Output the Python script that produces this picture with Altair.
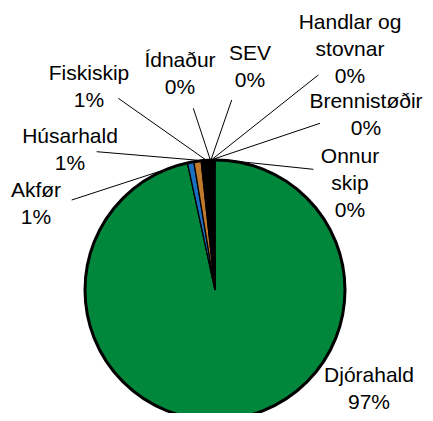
import math
import altair as alt
import pandas as pd

# ---- data ----
categories = ["Djórahald", "Akfør", "Húsarhald", "Fiskiskip", "Ídnaður",
              "SEV", "Handlar og stovnar", "Brennistøðir", "Onnur skip"]
shares = [96.6, 0.8, 0.9, 1.0, 0.2, 0.1, 0.2, 0.1, 0.1]
label_names = ["Djórahald", "Akfør", "Húsarhald", "Fiskiskip", "Ídnaður",
               "SEV", "Handlar og\nstovnar", "Brennistøðir", "Onnur\nskip"]

# ---- styles ----
slice_colors = ["#00873C", "#1B6FC1", "#C17A2B", "#000000", "#000000",
                "#000000", "#000000", "#000000", "#000000"]

# ---- layout (plot-area pixels) ----
W, H = 417, 405
CX, CY, R = 207, 282, 130
label_x = [361, 28, 62, 81, 172, 242, 342, 358, 342]
label_y = [374, 189, 135, 71.5, 58.7, 52, 21.3, 100, 155]
leader_x = [None, 63.7, 88.7, 110.3, 185.3, 223.7, 310.3, 312, 305.3]
leader_y = [None, 192, 143.7, 90.3, 100.3, 92, 67, 115.3, 161.3]

total = sum(shares)
pie_df = pd.DataFrame({
    "category": categories,
    "value": shares,
    "idx": list(range(len(categories))),
})

lab_df = pd.DataFrame({
    "label": [f"{n}\n{round(v)}%" for n, v in zip(label_names, shares)],
    "x": label_x,
    "y": label_y,
})

rows = []
cum = 0.0
for cat, v, lx, ly in zip(categories, shares, leader_x, leader_y):
    mid = (cum + v / 2) / total * 2 * math.pi
    cum += v
    if lx is None:
        continue
    rows.append({
        "x": lx, "y": ly,
        "x2": CX + (R + 1) * math.sin(mid),
        "y2": CY - (R + 1) * math.cos(mid),
    })
lead_df = pd.DataFrame(rows)

sx = alt.Scale(domain=[0, W], nice=False, zero=False)
sy = alt.Scale(domain=[H, 0], nice=False, zero=False)

pie = alt.Chart(pie_df).mark_arc(
    outerRadius=R, stroke="black", strokeWidth=1.3
).encode(
    theta=alt.Theta("value:Q", stack=True),
    order=alt.Order("idx:Q"),
    color=alt.Color("category:N",
                    scale=alt.Scale(domain=categories, range=slice_colors),
                    legend=None),
    x=alt.value(CX),
    y=alt.value(CY),
)

ring = alt.Chart(pd.DataFrame({"total": [total]})).mark_arc(
    outerRadius=R, theta=0, theta2=2 * math.pi,
    fillOpacity=0, stroke="black", strokeWidth=3
).encode(
    x=alt.value(CX),
    y=alt.value(CY),
)

leaders = alt.Chart(lead_df).mark_rule(color="black", strokeWidth=1).encode(
    x=alt.X("x:Q", scale=sx, axis=None),
    y=alt.Y("y:Q", scale=sy, axis=None),
    x2="x2:Q",
    y2="y2:Q",
)

labels = alt.Chart(lab_df).mark_text(
    font="Liberation Sans", fontSize=21, color="black",
    align="center", baseline="alphabetic", lineBreak="\n", lineHeight=27,
).encode(
    x=alt.X("x:Q", scale=sx, axis=None),
    y=alt.Y("y:Q", scale=sy, axis=None),
    text="label:N",
)

chart = alt.layer(pie, ring, leaders, labels).properties(
    width=W, height=H, padding=0,
    autosize=alt.AutoSizeParams(type="none"),
).configure_view(stroke=None)

chart.save("out.html", embed_options={"renderer": "svg", "actions": False})
